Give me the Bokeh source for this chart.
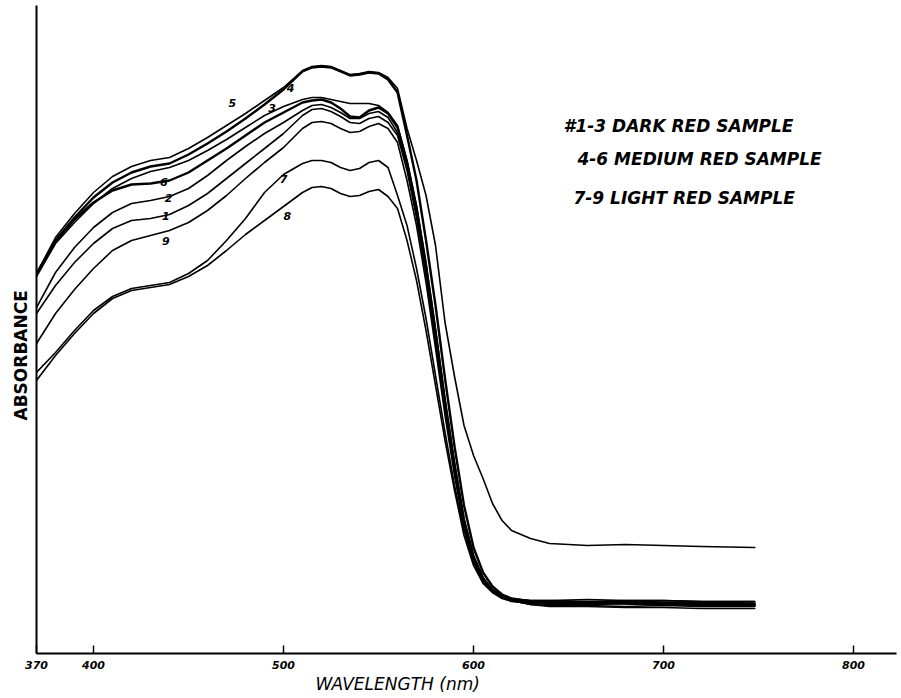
from bokeh.plotting import figure
from bokeh.models import FixedTicker, Label, Range1d, ColumnDataSource, Title
from bokeh.embed import file_html
from bokeh.resources import INLINE

# ---------------- data ----------------
wavelength = [370, 380, 390, 400, 410, 420, 430, 440, 450, 460, 470, 480, 490, 500,
              510, 515, 520, 525, 530, 535, 540, 545, 550, 555, 560, 565, 570, 575,
              580, 585, 590, 595, 600, 605, 610, 615, 620, 630, 640, 660, 680, 700,
              720, 748]

absorb_1 = [1.020, 1.104, 1.173, 1.230, 1.275, 1.299, 1.305, 1.317, 1.344, 1.380, 1.425, 1.470, 1.515, 1.560,
            1.614, 1.632, 1.635, 1.626, 1.611, 1.593, 1.590, 1.605, 1.611, 1.593, 1.554, 1.449, 1.308, 1.134,
            0.936, 0.729, 0.546, 0.387, 0.282, 0.219, 0.186, 0.168, 0.162, 0.159, 0.159, 0.156, 0.159, 0.159,
            0.156, 0.156]
absorb_2 = [1.038, 1.143, 1.218, 1.278, 1.323, 1.350, 1.359, 1.371, 1.395, 1.434, 1.479, 1.521, 1.560, 1.593,
            1.629, 1.644, 1.647, 1.638, 1.623, 1.605, 1.605, 1.620, 1.626, 1.608, 1.563, 1.464, 1.323, 1.149,
            0.951, 0.741, 0.555, 0.393, 0.288, 0.222, 0.189, 0.168, 0.159, 0.153, 0.150, 0.150, 0.153, 0.150,
            0.150, 0.147]
absorb_3 = [1.131, 1.230, 1.293, 1.350, 1.395, 1.425, 1.446, 1.458, 1.479, 1.509, 1.542, 1.578, 1.614, 1.641,
            1.662, 1.668, 1.668, 1.662, 1.656, 1.650, 1.650, 1.650, 1.644, 1.623, 1.584, 1.479, 1.344, 1.173,
            0.975, 0.765, 0.573, 0.405, 0.294, 0.228, 0.192, 0.174, 0.165, 0.159, 0.159, 0.162, 0.159, 0.159,
            0.156, 0.156]
absorb_4 = [1.137, 1.239, 1.308, 1.368, 1.413, 1.443, 1.461, 1.470, 1.497, 1.530, 1.566, 1.605, 1.647, 1.692,
            1.746, 1.758, 1.761, 1.758, 1.746, 1.734, 1.737, 1.743, 1.740, 1.722, 1.683, 1.554, 1.419, 1.239,
            1.044, 0.825, 0.621, 0.444, 0.318, 0.243, 0.201, 0.177, 0.165, 0.156, 0.153, 0.150, 0.150, 0.147,
            0.147, 0.144]
absorb_5 = [1.140, 1.248, 1.320, 1.383, 1.431, 1.461, 1.479, 1.488, 1.515, 1.548, 1.584, 1.620, 1.659, 1.698,
            1.749, 1.761, 1.764, 1.761, 1.749, 1.737, 1.740, 1.746, 1.743, 1.728, 1.695, 1.575, 1.479, 1.374,
            1.224, 0.993, 0.831, 0.684, 0.594, 0.525, 0.450, 0.399, 0.369, 0.345, 0.330, 0.324, 0.327, 0.324,
            0.321, 0.318]
absorb_6 = [1.140, 1.236, 1.302, 1.353, 1.389, 1.407, 1.410, 1.419, 1.443, 1.479, 1.515, 1.554, 1.593, 1.623,
            1.653, 1.659, 1.662, 1.653, 1.635, 1.611, 1.608, 1.629, 1.638, 1.620, 1.578, 1.473, 1.335, 1.161,
            0.963, 0.753, 0.564, 0.399, 0.291, 0.225, 0.189, 0.171, 0.162, 0.156, 0.156, 0.153, 0.156, 0.153,
            0.153, 0.150]
absorb_7 = [0.843, 0.903, 0.969, 1.029, 1.071, 1.095, 1.104, 1.113, 1.140, 1.179, 1.239, 1.305, 1.383, 1.437,
            1.470, 1.479, 1.479, 1.473, 1.458, 1.449, 1.455, 1.473, 1.479, 1.458, 1.374, 1.284, 1.155, 1.005,
            0.834, 0.663, 0.504, 0.369, 0.273, 0.216, 0.186, 0.168, 0.159, 0.147, 0.144, 0.144, 0.141, 0.144,
            0.141, 0.141]
absorb_8 = [0.819, 0.894, 0.960, 1.020, 1.065, 1.089, 1.098, 1.107, 1.131, 1.164, 1.209, 1.257, 1.299, 1.341,
            1.383, 1.398, 1.401, 1.395, 1.380, 1.371, 1.374, 1.386, 1.392, 1.371, 1.335, 1.239, 1.119, 0.969,
            0.804, 0.639, 0.489, 0.354, 0.264, 0.210, 0.183, 0.168, 0.159, 0.147, 0.141, 0.141, 0.138, 0.138,
            0.135, 0.135]
absorb_9 = [0.930, 1.020, 1.092, 1.155, 1.209, 1.239, 1.254, 1.269, 1.293, 1.329, 1.374, 1.425, 1.473, 1.518,
            1.575, 1.593, 1.596, 1.590, 1.575, 1.563, 1.566, 1.581, 1.590, 1.575, 1.533, 1.419, 1.284, 1.113,
            0.915, 0.714, 0.534, 0.378, 0.276, 0.213, 0.183, 0.165, 0.156, 0.150, 0.147, 0.147, 0.150, 0.147,
            0.144, 0.144]

curve_names = ["1", "2", "3", "4", "5", "6", "7", "8", "9"]
tick_values = [370, 400, 500, 600, 700, 800]
legend_texts = ["#1-3  DARK RED SAMPLE", "4-6  MEDIUM RED SAMPLE", "7-9  LIGHT RED SAMPLE"]
x_title = "WAVELENGTH (nm)"
y_title = "ABSORBANCE"

curves = [absorb_1, absorb_2, absorb_3, absorb_4, absorb_5,
          absorb_6, absorb_7, absorb_8, absorb_9]

# ---------------- figure ----------------
FONT = "DejaVu Sans"
INK = "black"

p = figure(frame_width=860, frame_height=648,
           x_range=Range1d(370, 822.6), y_range=Range1d(0, 1.944),
           output_backend="svg", toolbar_location=None,
           min_border_left=36, min_border_right=2,
           min_border_top=5, min_border_bottom=40)
p.outline_line_color = None
p.xgrid.visible = False
p.ygrid.visible = False
p.background_fill_color = "white"
p.border_fill_color = "white"

widths = {"4": 2.4, "6": 2.4}
for name, ys in zip(curve_names, curves):
    src = ColumnDataSource(dict(x=wavelength, y=ys))
    p.line("x", "y", source=src, line_color=INK,
           line_width=widths.get(name, 1.6), line_join="round", line_cap="round")

# x axis
xa = p.xaxis[0]
xa.ticker = FixedTicker(ticks=tick_values)
xa.minor_tick_line_color = None
xa.major_tick_in = 8
xa.major_tick_out = 0
xa.major_tick_line_width = 1.5
xa.major_tick_line_color = INK
xa.axis_line_width = 2
xa.axis_line_color = INK
xa.major_label_text_font = FONT
xa.major_label_text_font_style = "bold italic"
xa.major_label_text_font_size = "11px"
xa.major_label_text_color = INK
xa.major_label_standoff = 7

# y axis (line only)
ya = p.yaxis[0]
ya.ticker = FixedTicker(ticks=[])
ya.minor_tick_line_color = None
ya.major_tick_line_color = None
ya.major_label_text_font_size = "0px"
ya.axis_line_width = 2
ya.axis_line_color = INK

# axis titles as side titles so they can be offset like the original
p.add_layout(Title(text=x_title, align="left", offset=279, text_font=FONT,
                   text_font_size="17px", text_font_style="italic", text_color=INK,
                   standoff=0), "below")
p.add_layout(Title(text=y_title, align="left", offset=233, text_font=FONT,
                   text_font_size="17px", text_font_style="bold", text_color=INK,
                   standoff=12), "left")

# curve number labels
label_pos = [(438, 1.314), (439.5, 1.368), (494, 1.638), (503.7, 1.698), (473, 1.653),
             (437, 1.416), (500, 1.425), (502, 1.314), (438, 1.239)]
for name, (lx, ly) in zip(curve_names, label_pos):
    p.add_layout(Label(x=lx, y=ly, text=name, text_align="center", text_baseline="middle",
                       text_font=FONT, text_font_size="11px", text_font_style="bold italic",
                       text_color=INK))

# legend text
legend_pos = [(647.4, 1.584), (654.7, 1.485), (652.6, 1.368)]
for t, (lx, ly) in zip(legend_texts, legend_pos):
    p.add_layout(Label(x=lx, y=ly, text=t, text_align="left", text_baseline="middle",
                       text_font=FONT, text_font_size="17px", text_font_style="bold italic",
                       text_color=INK))

open("out.html", "w").write(file_html(p, INLINE))
